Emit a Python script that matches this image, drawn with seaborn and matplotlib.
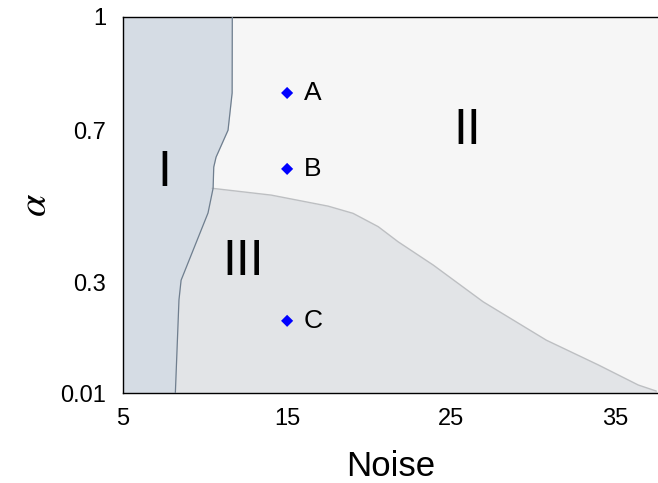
import numpy as np
import pandas as pd
import matplotlib
matplotlib.use("Agg")
import matplotlib.pyplot as plt
import seaborn as sns

# Boundary of region I (noise as a function of alpha)
b1_alpha = [0.01, 0.255, 0.307, 0.484, 0.549, 0.605, 0.631, 0.702, 0.80, 1.0]
b1_noise = [8.19, 8.41, 8.54, 10.18, 10.49, 10.53, 10.67, 11.40, 11.65, 11.66]

# Upper boundary of region III (alpha as a function of noise)
b3_noise = [10.43, 14.04, 17.5, 19.02, 20.55, 21.77, 23.9, 26.95, 30.8, 33.96, 36.4, 37.5]
b3_alpha = [0.549, 0.531, 0.502, 0.483, 0.448, 0.408, 0.347, 0.250, 0.149, 0.084, 0.031, 0.015]

# Points
pt_names = ["A", "B", "C"]
pt_noise = [15, 15, 15]
pt_alpha = [0.80, 0.60, 0.20]

# Region labels
reg_names = ["I", "II", "III"]
reg_noise = [7.5, 26.0, 12.3]
reg_alpha = [0.59, 0.70, 0.355]

xticks = [5, 15, 25, 35]
yticks = [0.01, 0.3, 0.7, 1]
ytick_labels = ["0.01", "0.3", "0.7", "1"]

sns.set_style("white")
plt.rcParams['font.family'] = ['Liberation Sans', 'DejaVu Sans']
plt.rcParams['mathtext.fontset'] = 'stix'
for k in ['text.color', 'axes.labelcolor', 'xtick.color', 'ytick.color']:
    plt.rcParams[k] = 'black'

fig = plt.figure(figsize=(6.58, 4.83), dpi=100)
ax = fig.add_axes([123/658, 90/483, (658-123)/658, (393-17)/483])

col_I = "#d5dce4"
col_II = "#f6f6f6"
col_III = "#e2e4e7"
ax.set_facecolor(col_II)

xmin, xmax = 5, 37.6
ymin, ymax = 0.01, 1.0

# Region III
x3 = [xmin] + b3_noise
y3 = [b3_alpha[0]] + b3_alpha
ax.fill_between(x3, ymin, y3, color=col_III, lw=0, zorder=1)
# Region I
ax.fill_betweenx(b1_alpha, xmin, b1_noise, color=col_I, lw=0, zorder=2)

df3 = pd.DataFrame({"noise": b3_noise, "alpha": b3_alpha})
sns.lineplot(data=df3, x="noise", y="alpha", sort=False, estimator=None,
             color="#bdbfc2", lw=1.0, ax=ax, zorder=3)
df1 = pd.DataFrame({"noise": b1_noise, "alpha": b1_alpha})
sns.lineplot(data=df1, x="noise", y="alpha", sort=False, estimator=None, orient="y",
             color="#6f7e8e", lw=0.9, ax=ax, zorder=4)

dfp = pd.DataFrame({"noise": pt_noise, "alpha": pt_alpha, "name": pt_names})
sns.scatterplot(data=dfp, x="noise", y="alpha", marker="D", s=38, color="#0000ff",
                edgecolor="none", ax=ax, zorder=5)
for n, x, y in zip(pt_names, pt_noise, pt_alpha):
    ax.text(x + 1.0, y, n, fontsize=19, ha="left", va="center", zorder=6)

for n, x, y in zip(reg_names, reg_noise, reg_alpha):
    ax.text(x, y, n, fontsize=36, ha="center", va="center", zorder=6)

ax.set_xlim(xmin, xmax)
ax.set_ylim(ymin, ymax)
ax.set_xticks(xticks)
ax.set_xticklabels([str(t) for t in xticks])
ax.set_yticks(yticks)
ax.set_yticklabels(ytick_labels)
ax.tick_params(axis="y", length=0, labelsize=17, pad=12)
ax.tick_params(axis="x", length=0, labelsize=17, pad=11)
ax.set_xlabel("Noise", fontsize=25, labelpad=14)
ax.set_ylabel(r"$\alpha$", fontsize=29, labelpad=5)

for s in ["left", "bottom", "top"]:
    ax.spines[s].set_visible(True)
    ax.spines[s].set_color("black")
    ax.spines[s].set_linewidth(1.0)
ax.spines["right"].set_visible(False)
ax.grid(False)

fig.savefig("out.png", dpi=100)
